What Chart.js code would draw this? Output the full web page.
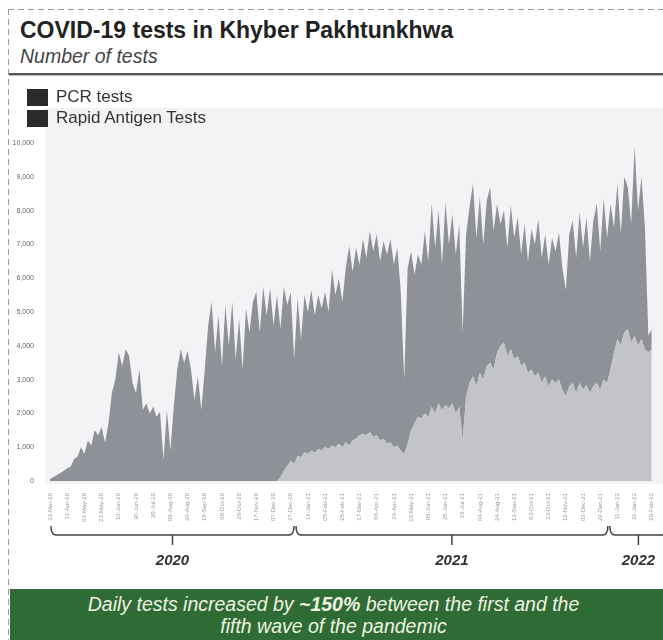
<!DOCTYPE html>
<html>
<head>
<meta charset="utf-8">
<script src="https://cdn.jsdelivr.net/npm/chart.js@4.4.1/dist/chart.umd.min.js"></script>
<style>
  body { margin: 0; width: 663px; height: 640px; overflow: hidden; background: #fff;
         font-family: "Liberation Sans", Arial, sans-serif; position: relative; }
  .dash-top { position: absolute; left: 8px; top: 9px; width: 655px; height: 1px;
              background: repeating-linear-gradient(to right, #999 0 6px, transparent 6px 10px); }
  .dash-left { position: absolute; left: 8px; top: 9px; width: 1px; height: 631px;
               background: repeating-linear-gradient(to bottom, #999 0 6px, transparent 6px 10px); }
  .title { position: absolute; left: 20px; top: 17px; font-weight: bold; font-size: 23px; color: #222; }
  .subtitle { position: absolute; left: 20px; top: 45px; font-style: italic; font-size: 19.5px; color: #444; }
  .rule { position: absolute; left: 9px; top: 73px; width: 654px; height: 2px; background: #555;
          border-bottom: 1px solid #bbb; }
  .legend { position: absolute; left: 27px; top: 87px; z-index: 2; }
  .legend div { height: 20px; display: flex; align-items: center; font-size: 17px; color: #333; margin-bottom: 1px; }
  .legend span { display: inline-block; width: 21px; height: 17px; background: #2b2b2b; margin-right: 8px; }
  #wrap { position: absolute; left: 0; top: 100px; width: 663px; height: 490px; }
  .banner { position: absolute; left: 10px; top: 589px; width: 653px; height: 51px; background: #2f6b35;
            color: #eef3e2; font-style: italic; font-size: 19.5px; line-height: 22px; text-align: center;
            padding-top: 4px; padding-right: 6px; box-sizing: border-box; }
</style>
</head>
<body>
<div class="dash-top"></div>
<div class="dash-left"></div>
<div class="title">COVID-19 tests in Khyber Pakhtunkhwa</div>
<div class="subtitle">Number of tests</div>
<div class="rule"></div>
<div class="legend">
  <div><span></span>PCR tests</div>
  <div><span></span>Rapid Antigen Tests</div>
</div>
<div id="wrap"><canvas id="grafico"></canvas></div>
<div class="banner">Daily tests increased by <b>~150%</b> between the first and the<br>fifth wave of the pandemic</div>

<script>
// one reading every 4 days, starting 22 Mar 2020
const startDate = new Date(2020, 2, 22);
const stepDays = 4;

const pcrTests = [
  60, 120, 180, 240, 300, 380, 420, 650, 720, 1000,
  800, 1200, 1050, 1500, 1350, 1600, 1130, 1700, 2600, 3000,
  3800, 3400, 3900, 3700, 2900, 2600, 3300, 2100, 2300, 2000,
  2200, 1900, 2050, 620, 2100, 900, 2200, 3300, 3900, 3500,
  3850, 3300, 2400, 3100, 2100, 3300, 4600, 5300, 3800, 4900,
  3400, 5200, 4000, 5300, 3600, 4800, 3300, 5100, 4400, 5300,
  5600, 4400, 5750, 4900, 5700, 4600, 5500,
  4400, 5450, 4750, 5000, 3100, 4650, 3500, 4650, 4200, 4750, 4070, 4550, 4200,
  4600, 4050, 5210, 4500, 4900, 4300, 5150, 5900, 5000, 5650,
  5050, 5750, 5250, 5950, 5500, 5950, 5300, 5850, 5600, 6000,
  5400, 5850, 4700, 2200, 5200, 5300, 4400, 4800, 4550, 5400,
  4600, 6000, 4900, 5700, 4300, 6000, 4850, 5600, 4700, 5400,
  3200, 4800, 5200, 5700, 4400, 5200, 4000, 4900, 5200, 4100,
  4400, 3600, 3900, 3200, 4250, 3600, 4100, 3300, 4100, 3300,
  4150, 3900, 4550, 3700, 4200, 3600, 4200, 3900, 4350, 3600,
  3150, 4500, 4800, 4000, 5050, 4200, 4950, 3900, 4900, 5300,
  4100, 5350, 4300, 4900, 3700, 4600, 3300, 4600, 4200, 3500,
  5600, 4000, 4800, 3600, 500, 600
];

const antigenTests = [
  0, 0, 0, 0, 0, 0, 0, 0, 0, 0,
  0, 0, 0, 0, 0, 0, 0, 0, 0, 0,
  0, 0, 0, 0, 0, 0, 0, 0, 0, 0,
  0, 0, 0, 0, 0, 0, 0, 0, 0, 0,
  0, 0, 0, 0, 0, 0, 0, 0, 0, 0,
  0, 0, 0, 0, 0, 0, 0, 0, 0, 0,
  0, 0, 0, 0, 0, 0, 0,
  100, 300, 450, 600, 500, 750, 700, 850, 800, 900, 830, 950, 900,
  1000, 950, 1050, 1000, 1100, 1000, 1150, 1050, 1200, 1250,
  1350, 1400, 1350, 1450, 1300, 1350, 1200, 1250, 1100, 1150,
  1000, 1050, 900, 800, 1100, 1500, 1700, 1900, 1850, 2000,
  1900, 2200, 2000, 2300, 2100, 2250, 2150, 2300, 2000, 2200,
  1200, 2500, 2900, 3100, 2800, 3200, 3000, 3400, 3500, 3300,
  3800, 4000, 4100, 3700, 3900, 3600, 3700, 3400, 3500, 3200,
  3300, 3100, 3200, 2900, 3100, 2800, 3000, 2900, 3000, 2700,
  2500, 2800, 2900, 2600, 2900, 2700, 2850, 2600, 2800, 2900,
  2700, 3000, 2900, 3300, 3800, 4200, 4000, 4400, 4500, 4100,
  4300, 4000, 4200, 3900, 3800, 3900
];

const yearNames = ['2020', '2021', '2022'];
const yearStarts = ['2020-03-22', '2021-01-01', '2022-01-01'];

const meses = ['Jan','Feb','Mar','Apr','May','Jun','Jul','Aug','Sep','Oct','Nov','Dec'];
const dias = pcrTests.map((_, i) => {
  const d = new Date(startDate.getTime() + i * stepDays * 86400000);
  return String(d.getDate()).padStart(2, '0') + '-' + meses[d.getMonth()] + '-' + String(d.getFullYear()).slice(2);
});

function indiceDaData(s) {
  const p = s.split('-');
  const d = new Date(+p[0], +p[1] - 1, +p[2]);
  return Math.round((d - startDate) / 86400000) / stepDays;
}

const fundoPainel = {
  id: 'fundoPainel',
  beforeDraw(chart) {
    const { ctx, chartArea } = chart;
    ctx.save();
    ctx.fillStyle = '#f3f3f5';
    ctx.fillRect(45, chartArea.top - 35, chart.width - 45, chartArea.bottom - chartArea.top + 38);
    ctx.restore();
  }
};

// chaves horizontais com o ano por baixo
const chavesAnos = {
  id: 'chavesAnos',
  afterDraw(chart) {
    const { ctx } = chart;
    const x = chart.scales.x;
    const y = 435;
    ctx.save();
    ctx.strokeStyle = '#444';
    ctx.lineWidth = 1.5;
    ctx.fillStyle = '#333';
    ctx.font = 'italic bold 15px "Liberation Sans", Arial, sans-serif';
    ctx.textAlign = 'center';
    ctx.textBaseline = 'middle';
    yearNames.forEach((nome, k) => {
      const i1 = Math.max(0, indiceDaData(yearStarts[k]));
      const x1 = x.getPixelForValue(i1) + 1;
      const x2 = k + 1 < yearStarts.length ? x.getPixelForValue(indiceDaData(yearStarts[k + 1])) - 1 : chart.width + 4;
      ctx.beginPath();
      ctx.moveTo(x1, y - 9);
      ctx.quadraticCurveTo(x1, y, x1 + 5, y);
      ctx.lineTo(x2 - 5, y);
      ctx.quadraticCurveTo(x2, y, x2, y - 9);
      const xm = (x1 + x2) / 2;
      ctx.moveTo(xm, y);
      ctx.lineTo(xm, y + 10);
      ctx.stroke();
      ctx.fillText(nome, xm, y + 26);
    });
    ctx.restore();
  }
};

new Chart(document.getElementById('grafico'), {
  type: 'line',
  data: {
    labels: dias,
    datasets: [
      {
        label: 'Rapid Antigen Tests',
        data: antigenTests,
        backgroundColor: '#c2c4c8',
        borderWidth: 0,
        pointRadius: 0,
        fill: 'origin'
      },
      {
        label: 'PCR tests',
        data: pcrTests,
        backgroundColor: '#8f9198',
        borderWidth: 0,
        pointRadius: 0,
        fill: '-1'
      }
    ]
  },
  options: {
    responsive: true,
    maintainAspectRatio: false,
    animation: false,
    layout: { padding: { top: 43, right: 0, left: 0, bottom: 0 } },
    plugins: { legend: { display: false }, tooltip: { enabled: false } },
    scales: {
      x: {
        grid: { display: false },
        border: { display: false },
        ticks: {
          autoSkip: false, minRotation: 90, maxRotation: 90,
          font: { size: 6 }, color: '#999', padding: 4,
          callback: (v, i) => i % 5 === 0 ? dias[i] : ''
        },
        afterFit: s => { s.height = 109; }
      },
      y: {
        stacked: true,
        min: 0, max: 10000,
        grid: { display: false },
        border: { display: false },
        ticks: { stepSize: 1000, font: { size: 7 }, color: '#666', padding: 8 },
        afterFit: s => { s.width = 50; }
      }
    }
  },
  plugins: [fundoPainel, chavesAnos]
});
</script>
</body>
</html>
